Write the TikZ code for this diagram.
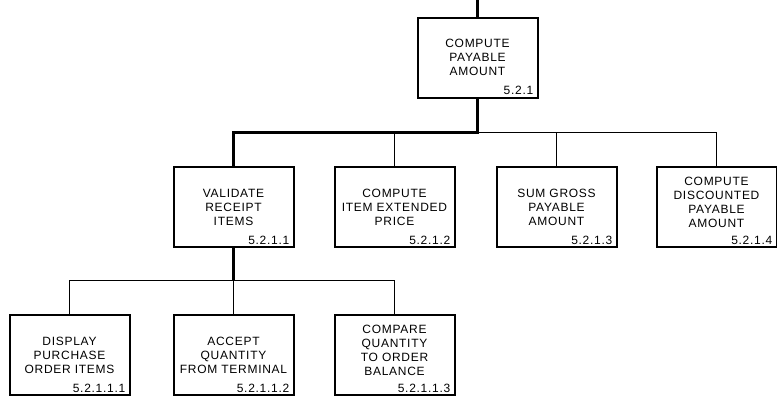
\documentclass[tikz,border=0pt]{standalone}
\usepackage{fontspec}
\setmainfont{Liberation Sans}[LetterSpace=6]
\usetikzlibrary{calc}

\begin{document}
\begin{tikzpicture}[x=1pt, y=-1pt,
    every node/.style={font=\fontsize{12}{14}\selectfont},
    box/.style={draw=black, line width=2pt, fill=white,
                minimum width=120pt, minimum height=80pt,
                align=center, inner sep=0pt},
    boxhigh/.style={box, text depth=10pt},
    num/.style={anchor=south east, inner xsep=5pt, inner ysep=3.5pt},
    link/.style={line width=1pt},
    mainlink/.style={line width=2.8pt},
]
\useasboundingbox (0,0) rectangle (777,399);

% -- row heights and bus lines ---------------------------------
\def\yA{57.5}    % top box
\def\yB{207}     % level 2
\def\yC{355}     % level 3
\coordinate (busB) at (0,132.5);
\coordinate (busC) at (0,280.5);

% ==== LEVEL 1 ==================================================
\node[box, label={[num]south east:5.2.1}] (pay) at (477.5,\yA)
    {COMPUTE\\PAYABLE\\AMOUNT};
\coordinate (entry) at (pay.north |- 0,0);
\draw[mainlink] (entry) -- (pay.north);

% ==== LEVEL 2 ==================================================
\node[box, label={[num]south east:5.2.1.1}] (valid) at (233.5,\yB)
    {VALIDATE\\RECEIPT\\ITEMS};
\node[box, label={[num]south east:5.2.1.2}] (price) at (394.5,\yB)
    {COMPUTE\\ITEM EXTENDED\\PRICE};
\node[box, label={[num]south east:5.2.1.3}] (gross) at (556.5,\yB)
    {SUM GROSS\\PAYABLE\\AMOUNT};
\node[boxhigh, label={[num]south east:5.2.1.4}] (disc) at (716.5,\yB)
    {COMPUTE\\DISCOUNTED\\PAYABLE\\AMOUNT};

% main path to the first child, thin lines to the others
\draw[mainlink] (pay.south) -- (pay.south |- busB) -| (valid.north);
\foreach \n in {price,gross,disc}{
    \draw[link] (pay.south |- busB) -| (\n.north);
}

% ==== LEVEL 3 ==================================================
\node[box, label={[num]south east:5.2.1.1.1}] (show) at (69.5,\yC)
    {DISPLAY\\PURCHASE\\ORDER ITEMS};
\node[box, label={[num]south east:5.2.1.1.2}] (qty) at (233.5,\yC)
    {ACCEPT\\QUANTITY\\FROM TERMINAL};
\node[boxhigh, label={[num]south east:5.2.1.1.3}] (bal) at (394.5,\yC)
    {COMPARE\\QUANTITY\\TO ORDER\\BALANCE};

\draw[mainlink] (valid.south) -- (valid.south |- busC);
\foreach \n in {show,qty,bal}{
    \draw[link] (valid.south |- busC) -| (\n.north);
}

\end{tikzpicture}
\end{document}
